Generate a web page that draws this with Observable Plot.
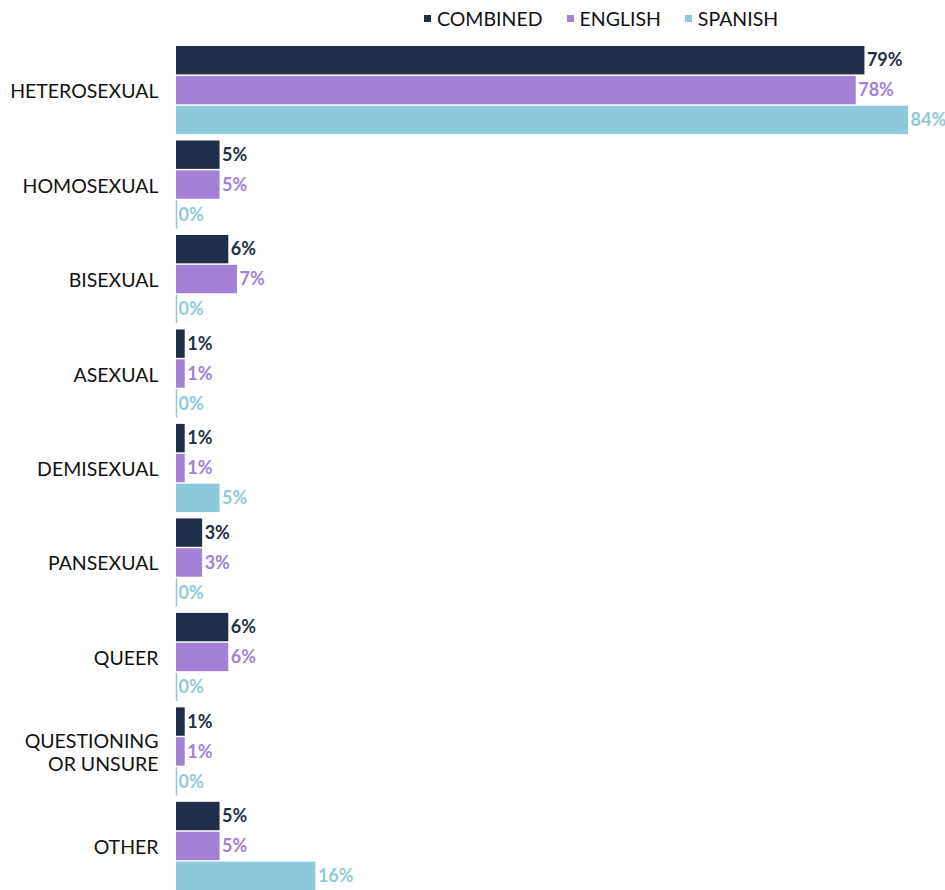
<!DOCTYPE html>
<html>
<head>
<meta charset="utf-8">
<script src="https://cdn.jsdelivr.net/npm/d3@7"></script>
<script src="https://cdn.jsdelivr.net/npm/@observablehq/plot@0.6"></script>
<style>
  html, body { margin: 0; padding: 0; background: #fff; }
  body { width: 945px; height: 890px; overflow: hidden; font-family: Lato, "Open Sans", sans-serif; }
  #legend { height: 36px; display: flex; align-items: center; padding-left: 424px; font-size: 19.5px; color: #111; box-sizing: border-box; }
  #legend .item { display: flex; align-items: center; margin-right: 24px; }
  #legend .sw { width: 7px; height: 7px; margin-right: 6px; }
  #chart svg { display: block; overflow: visible; }
</style>
</head>
<body>
<div id="legend"></div>
<div id="chart"></div>
<script>
const categories = ["HETEROSEXUAL","HOMOSEXUAL","BISEXUAL","ASEXUAL","DEMISEXUAL","PANSEXUAL","QUEER","QUESTIONING OR UNSURE","OTHER"];
const series = ["COMBINED","ENGLISH","SPANISH"];
const combined = [79,5,6,1,1,3,6,1,5];
const english  = [78,5,7,1,1,3,6,1,5];
const spanish  = [84,0,0,0,5,0,0,0,16];
const colors = ["#1f2f4a","#a381d6","#8ecadb"];

const values = [combined, english, spanish];
const data = categories.flatMap((c, i) => series.map((s, j) => ({category: c, series: s, value: values[j][i]})));

const legend = document.getElementById("legend");
series.forEach((s, j) => {
  const it = document.createElement("div");
  it.className = "item";
  it.innerHTML = `<span class="sw" style="background:${colors[j]}"></span><span>${s}</span>`;
  legend.appendChild(it);
});

const chart = Plot.plot({
  width: 945,
  height: 854,
  marginTop: 10,
  marginBottom: 0,
  marginLeft: 176,
  marginRight: 37,
  style: {fontFamily: "Lato, 'Open Sans', sans-serif", background: "#fff"},
  x: {domain: [0, 84], axis: null},
  y: {domain: series, axis: null, paddingInner: 0.05, paddingOuter: 0, round: false},
  fy: {domain: categories, paddingInner: 0.067, paddingOuter: 0, round: false, label: null},
  color: {domain: series, range: colors},
  marks: [
    Plot.barX(data, {x: "value", y: "series", fy: "category", fill: "series"}),
    Plot.tickX(data.filter(d => d.value === 0), {x: "value", y: "series", fy: "category", stroke: "series", strokeWidth: 1.5}),
    Plot.text(data, {x: "value", y: "series", fy: "category", text: d => d.value + "%", fill: "series", textAnchor: "start", dx: 2, fontWeight: "bold", fontSize: 18}),
    Plot.axisFy({anchor: "left", tickSize: 0, tickPadding: 18, fontSize: 19.5, fill: "#111", label: null, lineHeight: 1.2,
      tickFormat: d => d === "QUESTIONING OR UNSURE" ? "QUESTIONING\nOR UNSURE" : d})
  ]
});
document.getElementById("chart").appendChild(chart);
</script>
</body>
</html>
